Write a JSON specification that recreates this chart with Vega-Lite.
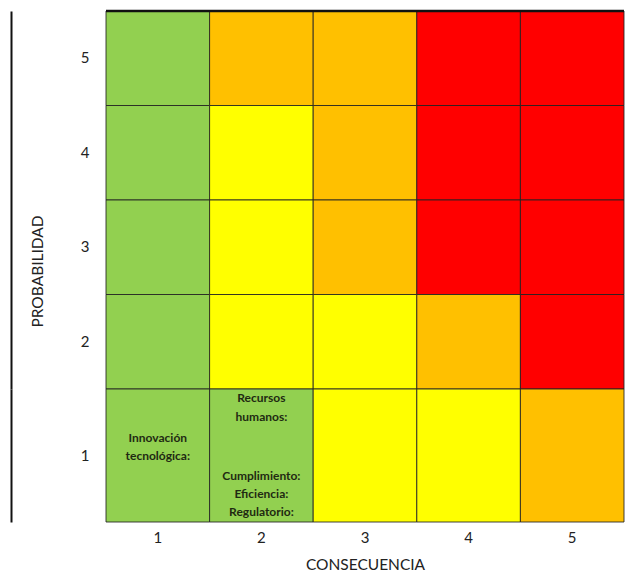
{
  "$schema": "https://vega.github.io/schema/vega-lite/v6.json",
  "padding": {"left": 11, "top": 9, "right": 0, "bottom": 0},
  "spacing": 0,
  "bounds": "flush",
  "background": "white",
  "config": {
    "view": {"stroke": null},
    "font": "Lato",
    "axis": {"labelFont": "Lato", "titleFont": "Lato", "labelColor": "#222", "titleColor": "#222", "labelFontSize": 15, "titleFontSize": 15.5, "titleFontWeight": "normal", "domain": false, "ticks": false, "grid": false}
  },
  "datasets": {
    "matriz": [
      {"consecuencia": 1, "probabilidad": 5, "nivel": "Bajo"},
      {"consecuencia": 2, "probabilidad": 5, "nivel": "Alto"},
      {"consecuencia": 3, "probabilidad": 5, "nivel": "Alto"},
      {"consecuencia": 4, "probabilidad": 5, "nivel": "Extremo"},
      {"consecuencia": 5, "probabilidad": 5, "nivel": "Extremo"},
      {"consecuencia": 1, "probabilidad": 4, "nivel": "Bajo"},
      {"consecuencia": 2, "probabilidad": 4, "nivel": "Moderado"},
      {"consecuencia": 3, "probabilidad": 4, "nivel": "Alto"},
      {"consecuencia": 4, "probabilidad": 4, "nivel": "Extremo"},
      {"consecuencia": 5, "probabilidad": 4, "nivel": "Extremo"},
      {"consecuencia": 1, "probabilidad": 3, "nivel": "Bajo"},
      {"consecuencia": 2, "probabilidad": 3, "nivel": "Moderado"},
      {"consecuencia": 3, "probabilidad": 3, "nivel": "Alto"},
      {"consecuencia": 4, "probabilidad": 3, "nivel": "Extremo"},
      {"consecuencia": 5, "probabilidad": 3, "nivel": "Extremo"},
      {"consecuencia": 1, "probabilidad": 2, "nivel": "Bajo"},
      {"consecuencia": 2, "probabilidad": 2, "nivel": "Moderado"},
      {"consecuencia": 3, "probabilidad": 2, "nivel": "Moderado"},
      {"consecuencia": 4, "probabilidad": 2, "nivel": "Alto"},
      {"consecuencia": 5, "probabilidad": 2, "nivel": "Extremo"},
      {"consecuencia": 1, "probabilidad": 1, "nivel": "Bajo"},
      {"consecuencia": 2, "probabilidad": 1, "nivel": "Bajo"},
      {"consecuencia": 3, "probabilidad": 1, "nivel": "Moderado"},
      {"consecuencia": 4, "probabilidad": 1, "nivel": "Moderado"},
      {"consecuencia": 5, "probabilidad": 1, "nivel": "Alto"}
    ],
    "centro": [
      {"consecuencia": 1, "probabilidad": 1, "texto": "Innovación\ntecnológica:"}
    ],
    "arriba": [
      {"consecuencia": 2, "probabilidad": 1, "texto": "Recursos\nhumanos:"}
    ],
    "abajo": [
      {"consecuencia": 2, "probabilidad": 1, "texto": "Cumplimiento:\nEficiencia:\nRegulatorio:"}
    ]
  },
  "vconcat": [
    {
      "width": 518,
      "height": 378,
      "data": {"name": "matriz"},
      "transform": [{"filter": "datum.probabilidad >= 2"}],
      "layer": [
        {
          "mark": {"type": "rect", "stroke": "#222", "strokeWidth": 1, "strokeOpacity": 0.85},
          "encoding": {
            "x": {"field": "consecuencia", "type": "ordinal", "scale": {"domain": [1, 2, 3, 4, 5], "paddingInner": 0, "paddingOuter": 0}, "axis": null},
            "y": {"field": "probabilidad", "type": "ordinal", "sort": "descending", "scale": {"domain": [5, 4, 3, 2], "paddingInner": 0, "paddingOuter": 0},
                  "axis": {"orient": "left", "title": "PROBABILIDAD", "labelPadding": 17, "labelAngle": 0, "titleX": -69, "titleY": 260, "titleAngle": -90, "titleAlign": "center", "titleBaseline": "middle"}},
            "color": {"field": "nivel", "type": "nominal", "scale": {"domain": ["Bajo", "Moderado", "Alto", "Extremo"], "range": ["#92D050", "#FFFF00", "#FFC000", "#FF0000"]}, "legend": null}
          }
        },
        {
          "mark": {"type": "rect", "opacity": 0},
          "encoding": {
            "x": {"field": "consecuencia", "type": "ordinal", "axis": null},
            "y": {"field": "probabilidad", "type": "ordinal", "sort": "descending",
                  "axis": {"orient": "left", "offset": 95, "labels": false, "ticks": false, "domain": true, "domainColor": "#111", "domainWidth": 2, "title": null}}
          }
        },
        {
          "mark": {"type": "rule", "color": "#111", "strokeWidth": 2.5},
          "data": {"values": [{"probabilidad": 5}]},
          "encoding": {
            "y": {"field": "probabilidad", "type": "ordinal", "bandPosition": 0, "axis": null}
          }
        }
      ],
      "resolve": {"axis": {"y": "independent"}}
    },
    {
      "width": 518,
      "height": 133,
      "layer": [
        {
          "data": {"name": "matriz"},
          "transform": [{"filter": "datum.probabilidad == 1"}],
          "mark": {"type": "rect", "stroke": "#222", "strokeWidth": 1, "strokeOpacity": 0.85},
          "encoding": {
            "x": {"field": "consecuencia", "type": "ordinal", "scale": {"domain": [1, 2, 3, 4, 5], "paddingInner": 0, "paddingOuter": 0},
                  "axis": {"title": "CONSECUENCIA", "labelAngle": 0, "labelPadding": 8, "titlePadding": 12}},
            "y": {"field": "probabilidad", "type": "ordinal", "scale": {"domain": [1], "paddingInner": 0, "paddingOuter": 0},
                  "axis": {"orient": "left", "title": null, "labelPadding": 17}},
            "color": {"field": "nivel", "type": "nominal", "scale": {"domain": ["Bajo", "Moderado", "Alto", "Extremo"], "range": ["#92D050", "#FFFF00", "#FFC000", "#FF0000"]}, "legend": null}
          }
        },
        {
          "data": {"name": "matriz"},
          "transform": [{"filter": "datum.probabilidad == 1"}],
          "mark": {"type": "rect", "opacity": 0},
          "encoding": {
            "x": {"field": "consecuencia", "type": "ordinal"},
            "y": {"field": "probabilidad", "type": "ordinal",
                  "axis": {"orient": "left", "offset": 95, "labels": false, "ticks": false, "domain": true, "domainColor": "#111", "domainWidth": 2, "title": null}}
          }
        },
        {
          "data": {"name": "centro"},
          "mark": {"type": "text", "font": "Lato", "fontWeight": "bold", "fontSize": 12, "color": "#1f2a12", "lineBreak": "\n", "lineHeight": 18, "baseline": "top"},
          "encoding": {
            "x": {"field": "consecuencia", "type": "ordinal"},
            "y": {"field": "probabilidad", "type": "ordinal", "bandPosition": 0.33, "axis": null},
            "text": {"field": "texto"}
          }
        },
        {
          "data": {"name": "arriba"},
          "mark": {"type": "text", "font": "Lato", "fontWeight": "bold", "fontSize": 12, "color": "#1f2a12", "lineBreak": "\n", "lineHeight": 19, "baseline": "top"},
          "encoding": {
            "x": {"field": "consecuencia", "type": "ordinal"},
            "y": {"field": "probabilidad", "type": "ordinal", "bandPosition": 0.03, "axis": null},
            "text": {"field": "texto"}
          }
        },
        {
          "data": {"name": "abajo"},
          "mark": {"type": "text", "font": "Lato", "fontWeight": "bold", "fontSize": 12, "color": "#1f2a12", "lineBreak": "\n", "lineHeight": 18, "baseline": "top"},
          "encoding": {
            "x": {"field": "consecuencia", "type": "ordinal"},
            "y": {"field": "probabilidad", "type": "ordinal", "bandPosition": 0.62, "axis": null},
            "text": {"field": "texto"}
          }
        }
      ],
      "resolve": {"axis": {"y": "independent"}}
    }
  ]
}
